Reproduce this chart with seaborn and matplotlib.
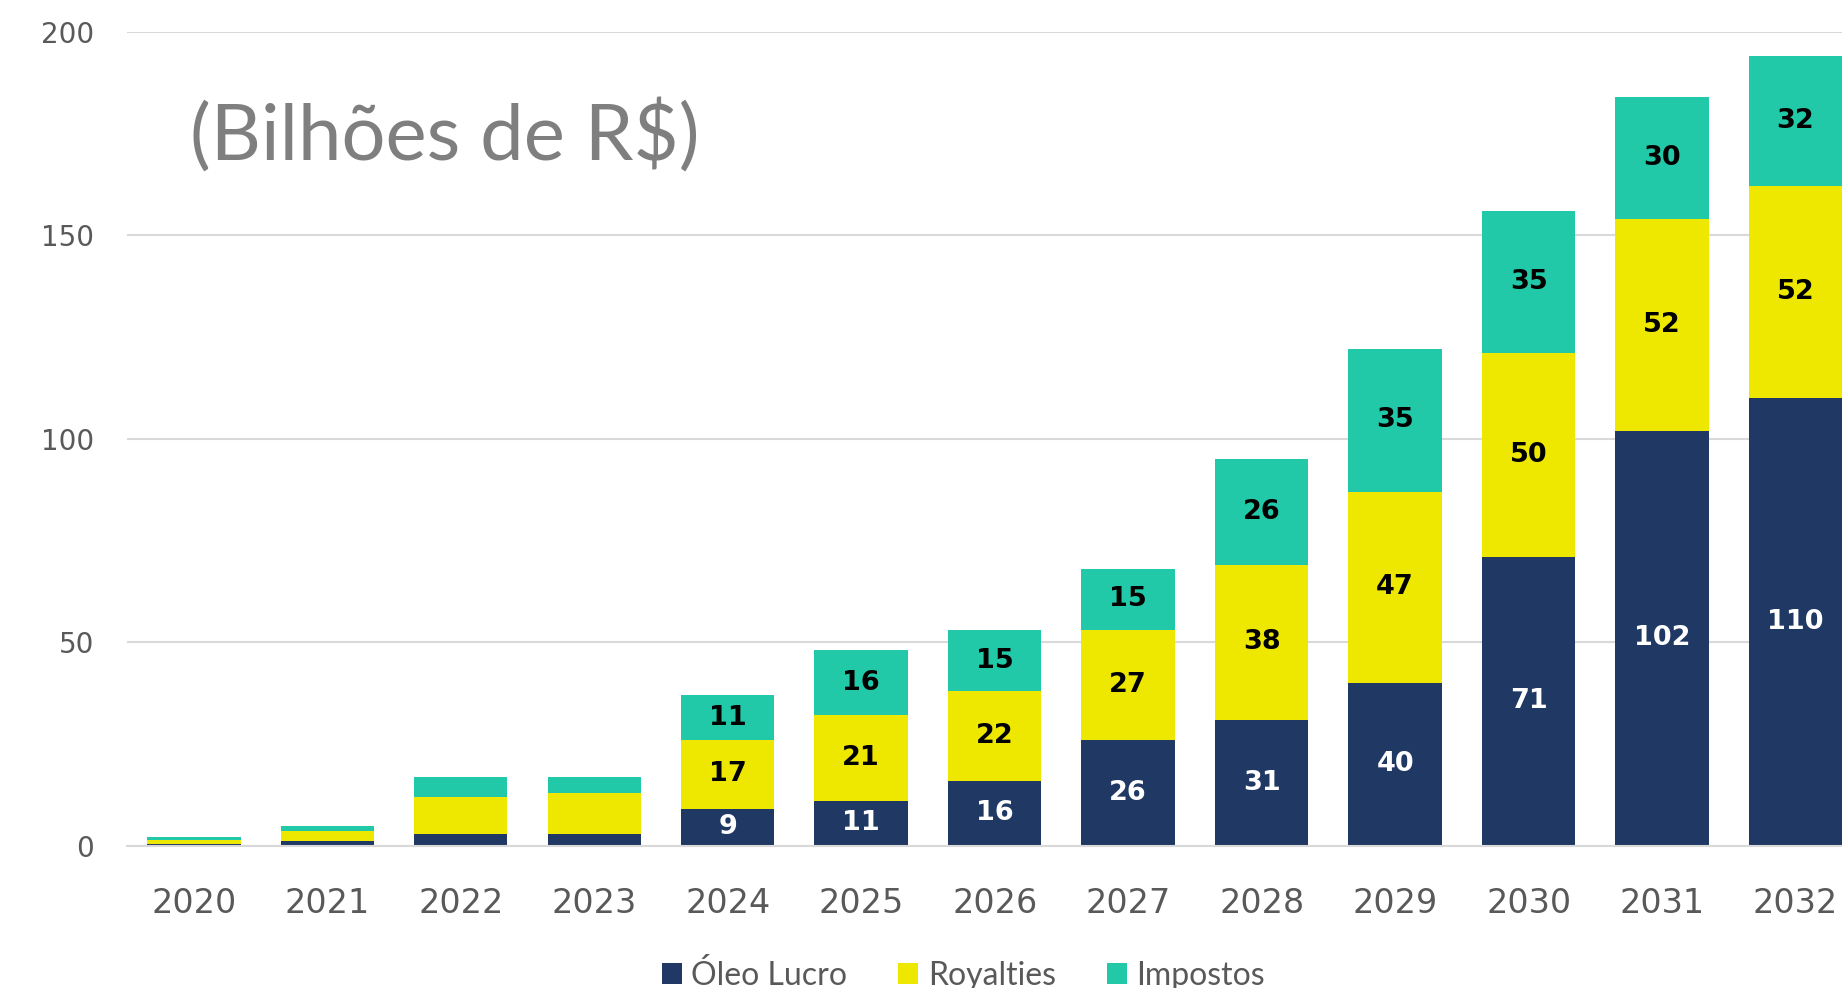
import matplotlib
matplotlib.use("Agg")
import matplotlib.pyplot as plt
from matplotlib.patches import Patch
import seaborn as sns
import pandas as pd
import numpy as np

years = ["2020", "2021", "2022", "2023", "2024", "2025", "2026",
         "2027", "2028", "2029", "2030", "2031", "2032"]
oleo_lucro = [0.4, 1.2, 2.8, 2.8, 9, 11, 16, 26, 31, 40, 71, 102, 110]
royalties = [1.0, 2.5, 9.2, 10.1, 17, 21, 22, 27, 38, 47, 50, 52, 52]
impostos = [0.8, 1.1, 4.8, 4.0, 11, 16, 15, 15, 26, 35, 35, 30, 32]
show_labels = [False, False, False, False, True, True, True,
               True, True, True, True, True, True]

series_names = ["Óleo Lucro", "Royalties", "Impostos"]
colors = ["#203864", "#EEE800", "#22C9A8"]
label_colors = ["white", "black", "black"]

sns.set_theme(style="white")
plt.rcParams["font.family"] = ["DejaVu Sans"]

df = pd.DataFrame({"ano": years, "oleo": oleo_lucro,
                   "roy": royalties, "imp": impostos})
df["c1"] = df["oleo"]
df["c2"] = df["oleo"] + df["roy"]
df["c3"] = df["c2"] + df["imp"]

fig = plt.figure(figsize=(18.42, 9.88), dpi=100)
ax = fig.add_axes([0.069, 0.144, 0.942, 0.824])

for col, c in zip(["c3", "c2", "c1"], [colors[2], colors[1], colors[0]]):
    sns.barplot(data=df, x="ano", y=col, color=c, width=0.70,
                saturation=1, ax=ax, zorder=3, edgecolor="none")

ax.set_ylim(0, 200)
ax.set_xlim(-0.5, len(years) - 0.5)
ax.set_xlabel("")
ax.set_ylabel("")
ax.set_yticks([0, 50, 100, 150, 200])
ax.yaxis.grid(True, color="#d9d9d9", linewidth=1.5, zorder=0)
ax.xaxis.grid(False)
for s in ["top", "right", "left"]:
    ax.spines[s].set_visible(False)
ax.spines["bottom"].set_color("#d9d9d9")
ax.spines["bottom"].set_linewidth(1.5)
ax.spines["bottom"].set_zorder(4)

ax.tick_params(axis="y", length=0, pad=24, labelsize=20, labelcolor="#595959")
ax.tick_params(axis="x", which="major", length=0, pad=30, labelsize=24,
               labelcolor="#595959")
ax.set_xticks(np.arange(-0.5, len(years), 1), minor=True)
ax.tick_params(axis="x", which="minor", length=11, width=1.5, color="#d9d9d9",
               direction="out")

# data labels
for i in range(len(years)):
    if not show_labels[i]:
        continue
    vals = [oleo_lucro[i], royalties[i], impostos[i]]
    base = 0
    for v, lc in zip(vals, label_colors):
        ax.text(i, base + v / 2, f"{v:g}", ha="center", va="center",
                fontsize=19.5, fontweight="bold", color=lc, zorder=5)
        base += v

fig.text(0.103, 0.862, "(Bilhões de R$)", fontsize=56, color="#7f7f7f",
         family=["Lato", "DejaVu Sans"], va="center", ha="left")

handles = [Patch(facecolor=c, edgecolor="none", label=n)
           for c, n in zip(colors, series_names)]
fig.legend(handles=handles, loc="center", bbox_to_anchor=(0.523, 0.013),
           ncol=3, frameon=False, handlelength=0.62,
           handleheight=0.62, handletextpad=0.3, columnspacing=1.6,
           labelcolor="#595959", prop={"family": ["Lato", "DejaVu Sans"], "size": 23})

fig.savefig("out.png", dpi=100)
